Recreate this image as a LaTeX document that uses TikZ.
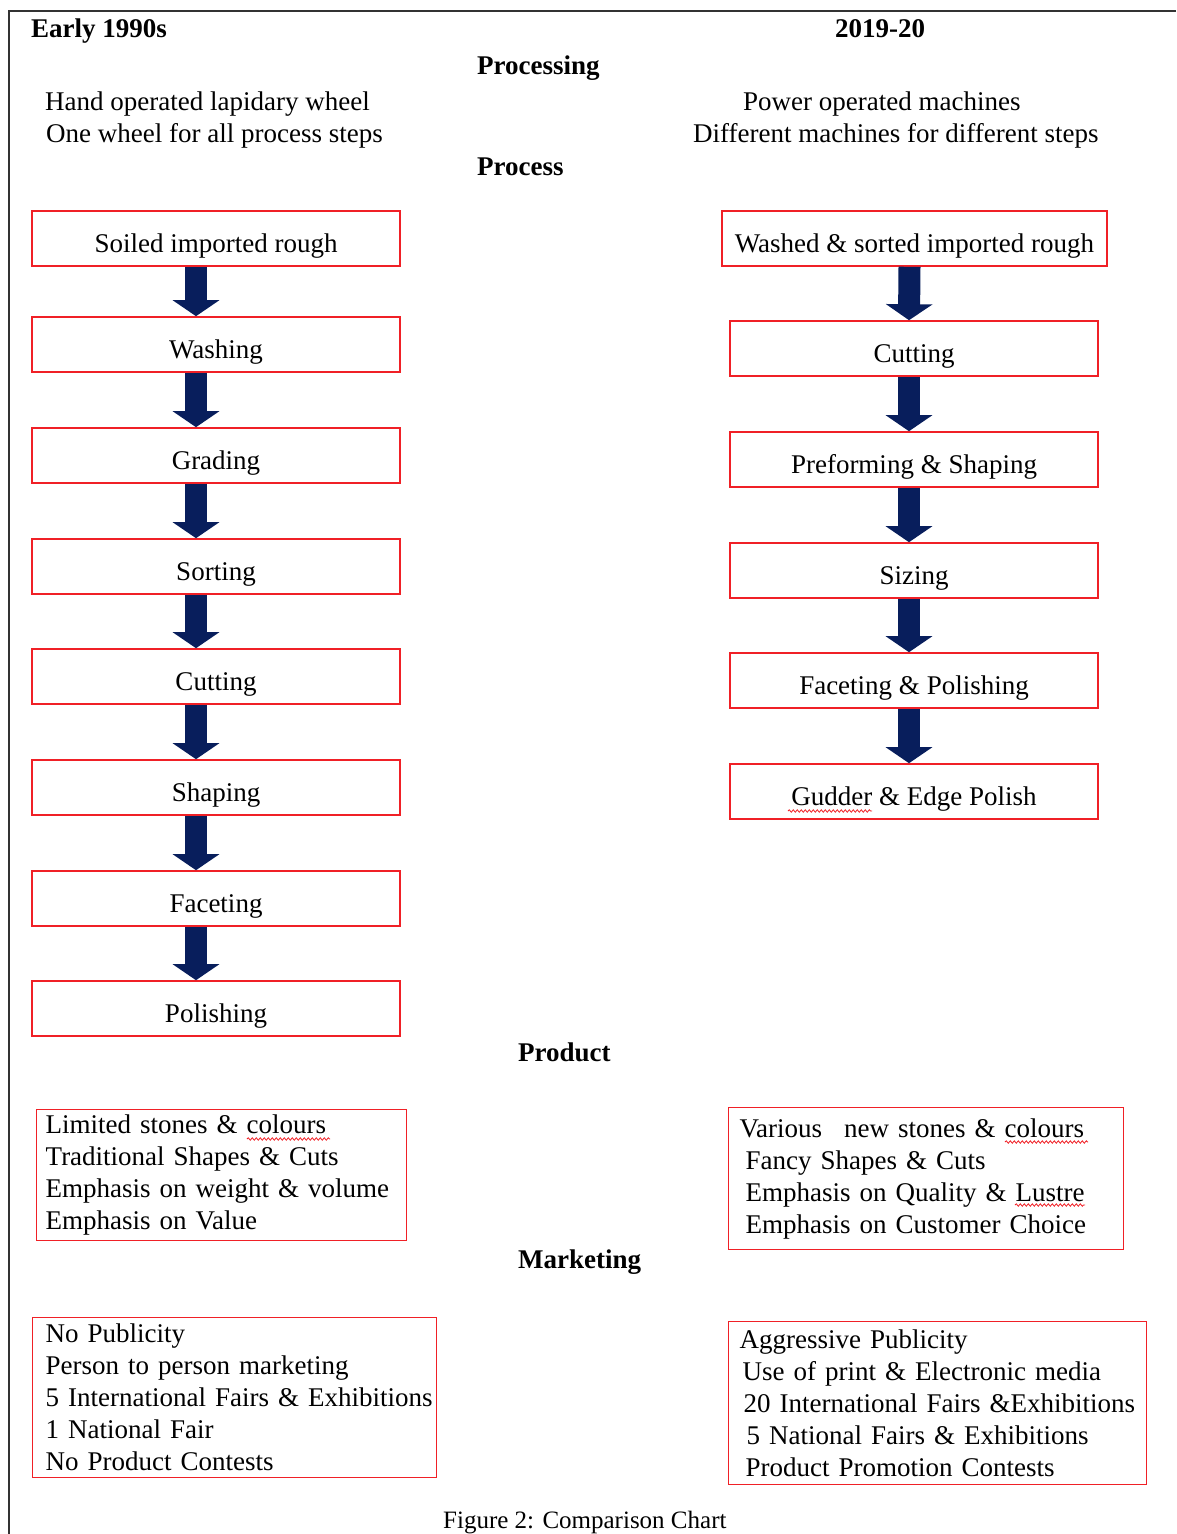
\documentclass[tikz,border=0pt]{standalone}
\usepackage{fontspec}
\setmainfont{Liberation Serif}
\usetikzlibrary{arrows.meta,decorations.pathmorphing}

\definecolor{boxred}{RGB}{240,32,38}
\definecolor{navy}{RGB}{8,30,92}

\begin{document}
\begin{tikzpicture}[x=1pt, y=-1pt, font=\fontsize{27}{32}\selectfont,
    stepbox/.style={draw=boxred, line width=1.6pt, minimum width=368pt, minimum height=55pt,
                    inner sep=0pt, text height=27pt, text depth=0pt},
    listbox/.style={draw=boxred, line width=1.4pt, align=left, inner ysep=0pt, anchor=north west},
    head/.style={font=\fontsize{27}{32}\selectfont\bfseries, anchor=base west, inner sep=0pt},
    plain/.style={anchor=base west, inner sep=0pt},
    down/.style={navy, line width=22pt, -{Triangle[width=46pt,length=16pt]}},
    squiggle/.style={boxred, line width=0.8pt, decorate,
                     decoration={snake, amplitude=1.2pt, segment length=4pt}}]
  \useasboundingbox (0,0) rectangle (1176,1534);
  \draw[line width=1.4pt, black!80] (1176,11) -- (9,11) -- (9,1534);

  % headings
  \node[head]              (early)      at (31,37)   {Early 1990s};
  \node[head,anchor=base]  (recent)     at (880,37)  {2019-20};
  \node[head]              (processing) at (477,74)  {Processing};
  \node[plain]             (handL)      at (45,110)  {Hand operated lapidary wheel};
  \node[plain]             (wheelL)     at (46,142)  {One wheel for all process steps};
  \node[plain]             (powerR)     at (743,110) {Power operated machines};
  \node[plain]             (machR)      at (693,142) {Different machines for different steps};
  \node[head]              (process)    at (477,175) {Process};

  % early 1990s process
  \node[stepbox] (E1) at (216,238.5)  {Soiled imported rough};
  \node[stepbox] (E2) at (216,344.5)  {Washing};
  \node[stepbox] (E3) at (216,455.5)  {Grading};
  \node[stepbox] (E4) at (216,566.5)  {Sorting};
  \node[stepbox] (E5) at (216,676.5)  {Cutting};
  \node[stepbox] (E6) at (216,787.5)  {Shaping};
  \node[stepbox] (E7) at (216,898.5)  {Faceting};
  \node[stepbox] (E8) at (216,1008.5) {Polishing};

  % 2019-20 process
  \node[stepbox,minimum width=385pt] (M1) at (914.5,238.5) {Washed \& sorted imported rough};
  \node[stepbox] (M2) at (914,348.5) {Cutting};
  \node[stepbox] (M3) at (914,459.5) {Preforming \& Shaping};
  \node[stepbox] (M4) at (914,570.5) {Sizing};
  \node[stepbox] (M5) at (914,680.5) {Faceting \& Polishing};
  \node[stepbox] (M6) at (914,791.5) {Gudder \& Edge Polish};

  \path[down] ([xshift=-20pt]E1.south) edge ([xshift=-20pt]E2.north)
              ([xshift=-20pt]E2.south) edge ([xshift=-20pt]E3.north)
              ([xshift=-20pt]E3.south) edge ([xshift=-20pt]E4.north)
              ([xshift=-20pt]E4.south) edge ([xshift=-20pt]E5.north)
              ([xshift=-20pt]E5.south) edge ([xshift=-20pt]E6.north)
              ([xshift=-20pt]E6.south) edge ([xshift=-20pt]E7.north)
              ([xshift=-20pt]E7.south) edge ([xshift=-20pt]E8.north)
              ([xshift=-5pt]M1.south)  edge ([xshift=-5pt]M2.north)
              ([xshift=-5pt]M2.south)  edge ([xshift=-5pt]M3.north)
              ([xshift=-5pt]M3.south)  edge ([xshift=-5pt]M4.north)
              ([xshift=-5pt]M4.south)  edge ([xshift=-5pt]M5.north)
              ([xshift=-5pt]M5.south)  edge ([xshift=-5pt]M6.north);

  % product
  \node[head] (product) at (518,1061) {Product};
  \node[listbox, text width=352pt, inner xsep=9pt, minimum height=131pt] (prodE) at (36,1109)
    {Limited stones \& colours\\ Traditional Shapes \& Cuts\\ Emphasis on weight \& volume\\ Emphasis on Value};
  \node[listbox, text width=373pt, inner xsep=11pt, minimum height=142pt] (prodM) at (728,1107)
    {Various\hspace{22pt}new stones \& colours\\ \hspace*{6pt}Fancy Shapes \& Cuts\\
     \hspace*{6pt}Emphasis on Quality \& Lustre\\ \hspace*{6pt}Emphasis on Customer Choice};

  % marketing
  \node[head] (marketing) at (518,1268) {Marketing};
  \node[listbox, text width=378pt, inner xsep=13pt, minimum height=160pt] (markE) at (32,1317)
    {No Publicity\\ Person to person marketing\\ \mbox{5 International Fairs \& Exhibitions}\\ 1 National Fair\\ No Product Contests};
  \node[listbox, text width=396pt, inner xsep=11pt, minimum height=163pt] (markM) at (728,1321)
    {Aggressive Publicity\\ \hspace*{3pt}Use of print \& Electronic media\\ \hspace*{4pt}\mbox{20 International Fairs \&Exhibitions}\\
     \hspace*{7pt}5 National Fairs \& Exhibitions\\ \hspace*{6pt}Product Promotion Contests};

  % spelling marks
  \draw[squiggle] (788,811) -- (872,811);
  \draw[squiggle] (247,1139) -- (330,1139);
  \draw[squiggle] (1005,1142) -- (1088,1142);
  \draw[squiggle] (1015,1205) -- (1085,1205);

  \node[plain, font=\fontsize{25}{30}\selectfont] (caption) at (443,1528) {Figure 2: Comparison Chart};
\end{tikzpicture}
\end{document}
